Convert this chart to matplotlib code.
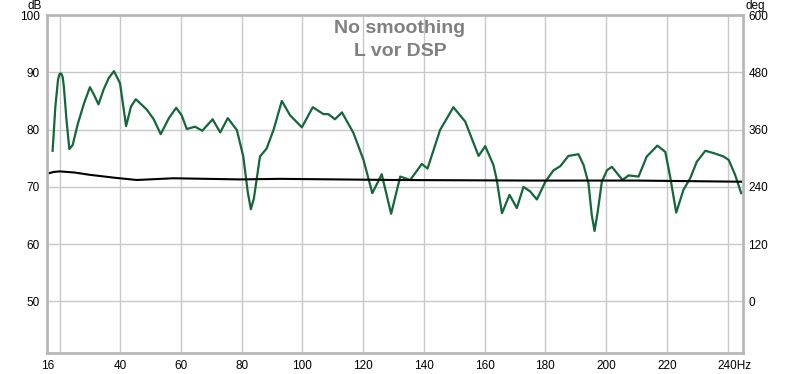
import numpy as np
import matplotlib
matplotlib.use("Agg")
import matplotlib.pyplot as plt
from matplotlib.transforms import ScaledTranslation

plt.rcParams['font.family'] = ['Liberation Sans', 'DejaVu Sans']

# SPL trace (Hz, dB)
freq_spl = [17.7, 18.6, 19.5, 20.0, 20.5, 21.0, 21.4, 22.3, 23.2, 24.3, 26.0, 28.0, 30.0, 31.4,
            32.8, 34.5, 36.2, 37.9, 39.9, 41.9, 43.5, 45.1, 48.7, 51.0, 53.3,
            56.0, 58.4, 60.2, 61.9, 64.6, 67.0, 70.4, 72.9, 75.4, 78.4, 80.5,
            82.0, 83.0, 84.0, 86.0, 88.2, 90.5, 93.2, 95.9, 99.8, 103.4, 106.9, 108.5,
            110.7, 113.0, 116.8, 120.1, 123.0, 126.1, 129.2, 132.2, 135.5,
            139.3, 141.2, 145.3, 149.7, 153.6, 158.0, 160.2, 162.9, 164.0,
            165.7, 168.2, 170.6, 172.8, 175.0, 177.2, 180.0, 182.7, 184.9,
            187.6, 190.9, 192.6, 194.2, 195.3, 196.2, 197.2, 198.6, 200.3, 201.9, 203.6,
            205.4, 207.4, 210.7, 213.4, 216.9, 219.5, 221.1, 223.1, 225.5,
            227.7, 229.9, 232.7, 235.4, 238.7, 240.4, 242.5, 244.5]
spl_db = [76.3, 84.0, 88.8, 89.7, 89.8, 89.2, 87.5, 81.5, 76.6, 77.3, 81.0, 84.5, 87.4, 86.0,
          84.4, 87.0, 89.0, 90.2, 88.1, 80.6, 84.0, 85.3, 83.5, 81.8, 79.2,
          82.0, 83.8, 82.5, 80.1, 80.5, 79.8, 81.8, 79.5, 82.0, 79.9, 75.3,
          69.0, 66.1, 68.0, 75.3, 76.7, 80.0, 85.0, 82.5, 80.4, 83.9, 82.7, 82.7,
          81.8, 83.0, 79.4, 74.7, 68.9, 72.2, 65.3, 71.8, 71.2,
          74.0, 73.2, 79.9, 83.9, 81.4, 75.4, 77.1, 73.8, 71.2,
          65.4, 68.6, 66.3, 70.0, 69.2, 67.8, 70.9, 72.9, 73.6,
          75.4, 75.7, 73.8, 70.6, 65.0, 62.3, 65.5, 70.9, 72.9, 73.5, 72.4,
          71.2, 72.0, 71.8, 75.3, 77.2, 76.1, 71.8, 65.5, 69.5,
          71.5, 74.4, 76.3, 75.9, 75.3, 74.7, 72.1, 68.9]

# second (black) trace
freq_ref = [16.0, 18.0, 20.1, 25.0, 30.0, 38.0, 45.4, 57.5, 79.4, 92.6, 130.0, 175.0, 210.0, 244.5]
ref_db = [72.3, 72.6, 72.7, 72.5, 72.1, 71.6, 71.2, 71.5, 71.3, 71.4, 71.2, 71.1, 71.1, 70.9]

x_ticks = [16, 20, 40, 60, 80, 100, 120, 140, 160, 180, 200, 220, 240]
x_labels = ['16', '', '40', '60', '80', '100', '120', '140', '160', '180', '200', '220', '240Hz']
y_ticks = [50, 60, 70, 80, 90, 100]
deg_ticks = [0, 120, 240, 360, 480, 600]

fig = plt.figure(figsize=(8, 3.74), dpi=100)
ax = fig.add_axes([46.7 / 800, 1 - 353 / 374, (742.7 - 46.7) / 800, (353 - 15) / 374])

ax.plot(freq_spl, spl_db, color='#13673a', lw=1.6, solid_joinstyle='round')
ax.plot(freq_ref, ref_db, color='black', lw=1.5)

ax.set_xlim(15.75, 245)
ax.set_ylim(41, 100)
ax.set_xticks(x_ticks)
ax.set_xticklabels(x_labels)
ax.set_yticks(y_ticks)
ax.grid(True, color='#c8c8c8', lw=1)
ax.tick_params(length=0, labelsize=8.5, pad=5)
for s in ax.spines.values():
    s.set_color('#b8b8b8')
    s.set_linewidth(2.0)

# shift the "240Hz" label so "240" sits under its grid line
last = ax.get_xticklabels()[-1]
last.set_transform(last.get_transform() + ScaledTranslation(7 / 100, 0, fig.dpi_scale_trans))

# right-hand degree axis
ax2 = ax.twinx()
ax2.set_ylim((41 - 50) * 12, (100 - 50) * 12)
ax2.set_yticks(deg_ticks)
ax2.tick_params(length=0, labelsize=8.5, pad=4)
for s in ax2.spines.values():
    s.set_visible(False)

fig.text(35 / 800, 1 - 9 / 374, 'dB', ha='center', va='baseline', fontsize=8.5)
fig.text(755 / 800, 1 - 9 / 374, 'deg', ha='center', va='baseline', fontsize=8.5)

fig.text(0.5, 1 - 33 / 374, 'No smoothing', ha='center', va='baseline',
         fontsize=14, fontweight='bold', color='#808080')
fig.text(0.5, 1 - 56.5 / 374, 'L vor DSP', ha='center', va='baseline',
         fontsize=14, fontweight='bold', color='#808080')

fig.savefig('out.png', dpi=100)
